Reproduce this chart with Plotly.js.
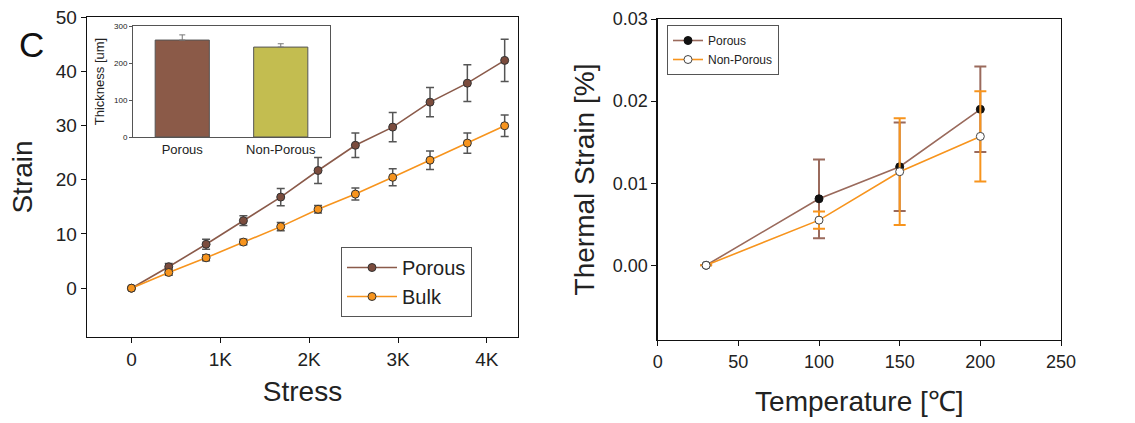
<!DOCTYPE html>
<html>
<head>
<meta charset="utf-8">
<script src="https://cdn.plot.ly/plotly-3.0.1.min.js"></script>
<style>html,body{margin:0;padding:0;background:#fff;}#chart{width:1135px;height:423px;}</style>
</head>
<body>
<div id="chart"></div>
<script>
// ---- Left panel: Strain vs Stress ----
var stress = [0, 420, 840, 1260, 1680, 2100, 2520, 2940, 3360, 3780, 4200];
var porousStrain = [0, 3.95, 8.1, 12.45, 16.8, 21.7, 26.35, 29.7, 34.3, 37.8, 42.0];
var porousStrainErr = [0, 0.6, 0.9, 0.9, 1.6, 2.4, 2.25, 2.7, 2.7, 3.4, 3.9];
var bulkStrain = [0, 2.9, 5.6, 8.5, 11.35, 14.55, 17.35, 20.45, 23.6, 26.75, 29.95];
var bulkStrainErr = [0, 0.5, 0.55, 0.5, 0.75, 0.7, 1.1, 1.55, 1.7, 1.85, 2.0];
var stressTickVals = [0, 1000, 2000, 3000, 4000];
var stressTickText = ['0', '1K', '2K', '3K', '4K'];

// ---- Inset: thickness ----
var insetCats = ['Porous', 'Non-Porous'];
var thickness = [262, 243];
var thicknessErr = [14, 9];
var thicknessErrMinus = [0, 0];

// ---- Right panel: Thermal strain vs temperature ----
var temperature = [30, 100, 150, 200];
var porousThermal = [0, 0.0081, 0.0120, 0.0190];
var porousThermalErr = [0, 0.0048, 0.0054, 0.0052];
var nonPorousThermal = [0, 0.0055, 0.0114, 0.0157];
var nonPorousThermalErr = [0, 0.00105, 0.0065, 0.0055];

var W = 1135, H = 423;
function px(x){return x/W;}
function py(y){return 1 - y/H;}

var FONT = 'Arial, "Liberation Sans", sans-serif';
var brown = '#8a5a4a';
var orange = '#f7941d';
var errGray = '#555555';

var traces = [
  {x: stress, y: porousStrain, name: 'Porous', type: 'scatter', mode: 'lines+markers',
   xaxis: 'x', yaxis: 'y', legend: 'legend',
   line: {color: brown, width: 1.6},
   marker: {color: '#7b4c3d', size: 8, line: {color: '#333', width: 1}},
   error_y: {type: 'data', array: porousStrainErr, visible: true, color: errGray, thickness: 1.5, width: 4}},
  {x: stress, y: bulkStrain, name: 'Bulk', type: 'scatter', mode: 'lines+markers',
   xaxis: 'x', yaxis: 'y', legend: 'legend',
   line: {color: orange, width: 1.6},
   marker: {color: orange, size: 8, line: {color: '#333', width: 1}},
   error_y: {type: 'data', array: bulkStrainErr, visible: true, color: errGray, thickness: 1.5, width: 4}},
  {x: insetCats, y: thickness, type: 'bar', xaxis: 'x2', yaxis: 'y2', showlegend: false,
   width: 0.55,
   marker: {color: ['#8b5a48', '#c3bd50'], line: {color: '#555', width: 1}},
   error_y: {type: 'data', array: thicknessErr, arrayminus: thicknessErrMinus, symmetric: false,
             visible: true, color: '#777', thickness: 1, width: 3}},
  {x: temperature, y: porousThermal, name: 'Porous', type: 'scatter', mode: 'lines+markers',
   xaxis: 'x3', yaxis: 'y3', legend: 'legend2',
   line: {color: '#9a6a5c', width: 1.6},
   marker: {color: '#111', size: 8, line: {color: '#111', width: 1}},
   error_y: {type: 'data', array: porousThermalErr, visible: true, color: '#9a6a5c', thickness: 2, width: 6}},
  {x: temperature, y: nonPorousThermal, name: 'Non-Porous', type: 'scatter', mode: 'lines+markers',
   xaxis: 'x3', yaxis: 'y3', legend: 'legend2',
   line: {color: orange, width: 1.6},
   marker: {color: '#fff', size: 8, line: {color: '#444', width: 1}},
   error_y: {type: 'data', array: nonPorousThermalErr, visible: true, color: orange, thickness: 2, width: 6}}
];

var axisCommon = {showline: true, linecolor: '#111', linewidth: 1.3, mirror: true,
  ticks: 'outside', ticklen: 5, tickcolor: '#111', showgrid: false, zeroline: false,
  automargin: false, tickfont: {family: FONT, size: 19, color: '#222'}};

var layout = {
  width: W, height: H,
  margin: {l: 0, r: 0, t: 0, b: 0},
  paper_bgcolor: '#fff', plot_bgcolor: 'rgba(0,0,0,0)',
  font: {family: FONT, color: '#222'},
  xaxis: Object.assign({}, axisCommon, {domain: [px(87), px(518)], range: [-500, 4350],
    tickvals: stressTickVals, ticktext: stressTickText, anchor: 'y',
    title: {text: 'Stress', font: {family: FONT, size: 28, color: '#222'}, standoff: 12}}),
  yaxis: Object.assign({}, axisCommon, {domain: [py(337), py(17)], range: [-9, 50],
    tickvals: [0, 10, 20, 30, 40, 50], anchor: 'x',
    title: {text: 'Strain', font: {family: FONT, size: 28, color: '#222'}, standoff: 15}}),
  xaxis2: {domain: [px(133), px(330)], anchor: 'y2', range: [-0.5, 1.5], showline: true, mirror: true,
    linecolor: '#555', linewidth: 1, ticks: '', showgrid: false,
    automargin: false, tickfont: {family: FONT, size: 13, color: '#222'}},
  yaxis2: {domain: [py(137), py(26)], anchor: 'x2', range: [0, 300], showline: true, mirror: true,
    linecolor: '#555', linewidth: 1, ticks: 'outside', ticklen: 3, tickcolor: '#555', showgrid: false,
    zeroline: false, automargin: false, tickvals: [0, 100, 200, 300],
    tickfont: {family: FONT, size: 8, color: '#222'},
    title: {text: 'Thickness [um]', font: {family: FONT, size: 13, color: '#222'}, standoff: 6}},
  xaxis3: Object.assign({}, axisCommon, {domain: [px(657.7), px(1061)], range: [0, 250], anchor: 'y3',
    tickvals: [0, 50, 100, 150, 200, 250], tickfont: {family: FONT, size: 18, color: '#222'},
    title: {text: 'Temperature [℃]', font: {family: FONT, size: 28, color: '#222'}, standoff: 20}}),
  yaxis3: Object.assign({}, axisCommon, {domain: [py(340), py(19)], range: [-0.0091, 0.03], anchor: 'x3',
    tickvals: [0, 0.01, 0.02, 0.03], tickformat: '.2f', tickfont: {family: FONT, size: 18, color: '#222'},
    title: {text: 'Thermal Strain [%]', font: {family: FONT, size: 28, color: '#222'}, standoff: 10}}),
  legend: {x: px(341), y: py(247), xanchor: 'left', yanchor: 'top', bgcolor: '#fff',
    bordercolor: '#555', borderwidth: 1, font: {family: FONT, size: 20, color: '#222'},
    tracegroupgap: 0, itemwidth: 50},
  legend2: {x: px(667), y: py(25), xanchor: 'left', yanchor: 'top', bgcolor: '#fff',
    bordercolor: '#555', borderwidth: 1, font: {family: FONT, size: 12, color: '#222'},
    tracegroupgap: 0},
  annotations: [
    {text: 'C', x: px(31), y: py(44), xref: 'paper', yref: 'paper', showarrow: false,
     font: {family: FONT, size: 35, color: '#111'}, xanchor: 'center', yanchor: 'middle'}
  ]
};

Plotly.newPlot('chart', traces, layout, {staticPlot: true, displayModeBar: false});
</script>
</body>
</html>
